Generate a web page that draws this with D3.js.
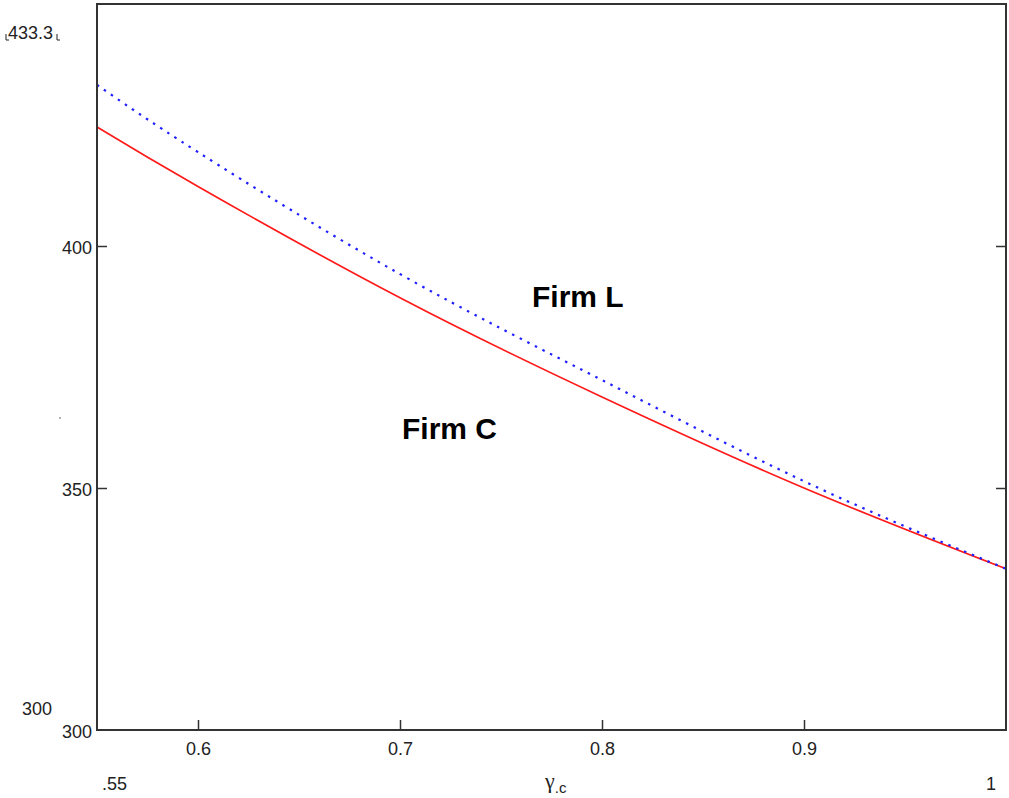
<!DOCTYPE html>
<html>
<head>
<meta charset="utf-8">
<script src="https://cdn.jsdelivr.net/npm/d3@7/dist/d3.min.js"></script>
<style>
  body{margin:0;background:#fff;}
  svg{display:block;}
  .tick text{font-family:"Liberation Sans Narrow","Arial Narrow","Liberation Sans",Arial,sans-serif;font-size:18px;fill:#222;}
  .lbl{font-family:"Liberation Sans Narrow","Arial Narrow","Liberation Sans",Arial,sans-serif;font-size:18px;fill:#222;}
  .firm{font-family:"Liberation Sans",Arial,sans-serif;font-weight:bold;font-size:30px;fill:#000;}
</style>
</head>
<body>
<svg id="chart" width="1009" height="798"></svg>
<script>
// gamma_c values
var gammaC=[0.55,0.6,0.7,0.8,0.9,1.0];
var firmL=[433.3,419.4,394.2,372.3,351.4,333.3];   // blue dotted
var firmC=[424.6,412.3,389.3,368.8,350.0,333.3];   // red solid
var xTicks=[0.6,0.7,0.8,0.9];
var yTicks=[300,350,400];

var svg=d3.select("#chart");
var plotL=97,plotR=1006,plotT=4,plotB=730;

var x=d3.scaleLinear().domain([0.55,1]).range([plotL,plotR]);
var y=d3.scaleLinear().domain([300,450]).range([plotB,plotT]);

//bottom axis, ticks pointing inwards
var gx=svg.append("g")
    .attr("transform","translate(0,"+plotB+")")
    .call(d3.axisBottom(x).tickValues(xTicks).tickSize(-10).tickFormat(d3.format(".1f")));
gx.select(".domain").remove();
gx.selectAll(".tick line").attr("stroke","#333").attr("stroke-width",1.5);
gx.selectAll(".tick text").attr("y",25).attr("dy",0);

//left axis
var gy=svg.append("g")
    .attr("transform","translate("+plotL+",0)")
    .call(d3.axisLeft(y).tickValues(yTicks).tickSize(-10).tickFormat(d3.format("d")));
gy.select(".domain").remove();
gy.selectAll(".tick line").attr("stroke","#333").attr("stroke-width",1.5);
gy.selectAll(".tick text").attr("x",-5).attr("dy","0.4em");
gy.selectAll(".tick").filter(function(d){return d===300;}).select("line").remove();

//right axis, no labels
var gr=svg.append("g")
    .attr("transform","translate("+plotR+",0)")
    .call(d3.axisRight(y).tickValues([350,400]).tickSize(-10).tickFormat(""));
gr.select(".domain").remove();
gr.selectAll(".tick line").attr("stroke","#333").attr("stroke-width",1.5);

//curves
var curveLine=d3.line().x(function(d,i){return x(gammaC[i]);}).y(function(d){return y(d);}).curve(d3.curveNatural);

svg.append("path")
  .datum(firmC)
  .attr("d",curveLine)
  .attr("fill","none")
  .attr("stroke","#ff1a1a")
  .attr("stroke-width",1.7);

svg.append("path")
  .datum(firmL)
  .attr("d",curveLine)
  .attr("fill","none")
  .attr("stroke","#2020ff")
  .attr("stroke-width",2.2)
  .attr("stroke-dasharray","2.5,6");

//frame
svg.append("rect")
  .attr("x",plotL).attr("y",plotT)
  .attr("width",plotR-plotL).attr("height",plotB-plotT)
  .attr("fill","none").attr("stroke","#333").attr("stroke-width",2);

//annotations
svg.append("text").attr("class","firm").attr("x",532).attr("y",307).text("Firm L");
svg.append("text").attr("class","firm").attr("x",402).attr("y",439).text("Firm C");

//mathcad limit labels
svg.append("text").attr("class","lbl").attr("x",8).attr("y",39).text("433.3");
svg.append("path").attr("d","M6,34V40H9M57,34V40H60").attr("fill","none").attr("stroke","#222").attr("stroke-width",1);
svg.append("text").attr("class","lbl").attr("x",22).attr("y",715).text("300");
svg.append("text").attr("class","lbl").attr("x",102).attr("y",790).text(".55");
svg.append("text").attr("class","lbl").attr("x",986).attr("y",790).text("1");
svg.append("circle").attr("cx",60).attr("cy",418).attr("r",0.8).attr("fill","#555");

//x axis name
var xt=svg.append("text").attr("x",545).attr("y",788)
  .attr("font-family","'Liberation Serif','Times New Roman',serif").attr("font-size",22).attr("fill","#222");
xt.append("tspan").text("γ");
xt.append("tspan").attr("font-family","'Liberation Sans',Arial,sans-serif").attr("font-size",15).attr("dy",5).text(".c");
</script>
</body>
</html>
